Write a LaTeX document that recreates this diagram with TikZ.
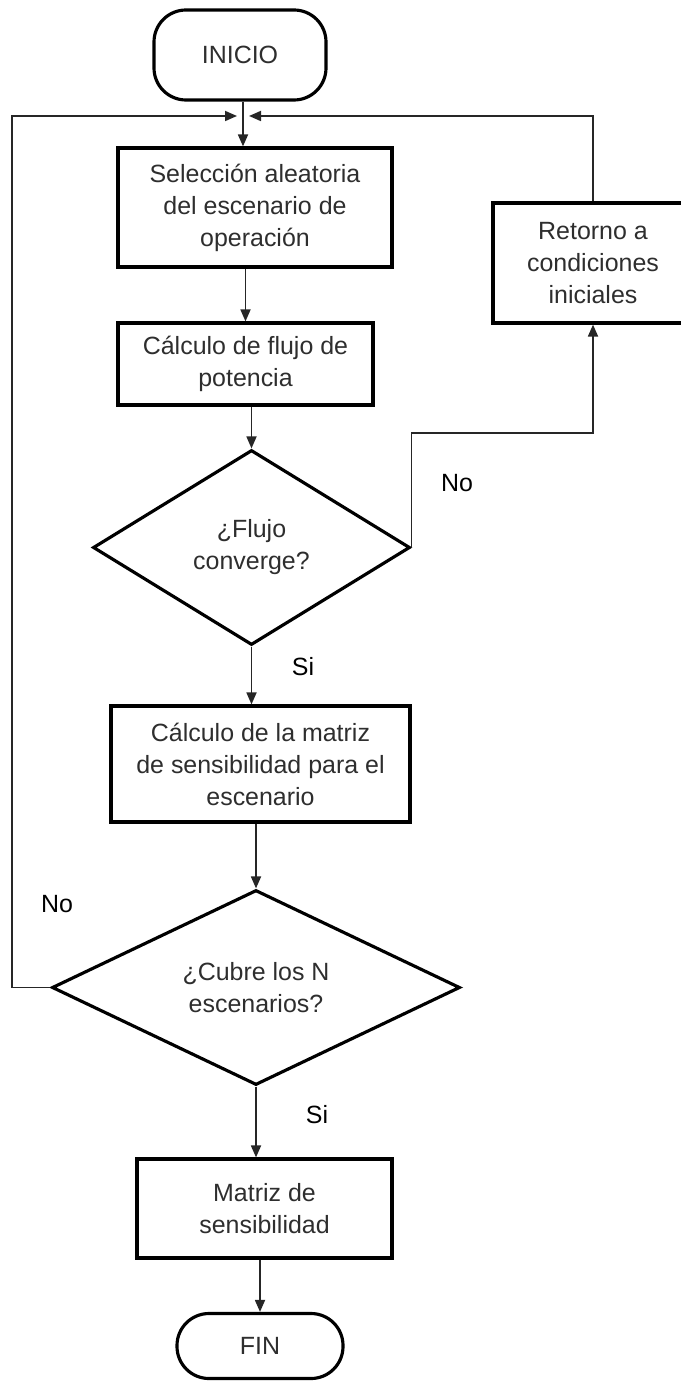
\documentclass[tikz,border=0pt]{standalone}
\usepackage{fontspec}
\setmainfont{Liberation Sans}
\usepackage{tikz}
\usetikzlibrary{shapes.geometric,arrows.meta,calc}

\begin{document}
\begin{tikzpicture}[x=0.2mm,y=-0.2mm,
        every node/.style={font=\fontsize{14.2pt}{18.2pt}\selectfont},
        proc/.style={draw=black,line width=1.8pt,rectangle,align=center,text=black!82,inner sep=0pt},
        term/.style={draw=black,line width=1.8pt,rectangle,rounded corners=0.64cm,text=black!82,inner sep=0pt},
        decis/.style={draw=black,line width=1.8pt,diamond,align=center,text=black!82,inner sep=0pt},
        flow/.style={draw=black!85,line width=1pt,-{Triangle[length=0.24cm,width=0.2cm]}},
        lbl/.style={text=black}]
                \clip (0,0) rectangle (681,1382);
                \node[term,minimum width=3.44cm,minimum height=1.8cm] (inicio) at (240,55) {INICIO};
                \node[proc,minimum width=5.48cm,minimum height=2.38cm] (sel) at (255,207.5) {Selección aleatoria\\del escenario de\\operación};
                \node[proc,minimum width=5.1cm,minimum height=1.64cm] (flujo) at (245.5,364) {Cálculo de flujo de\\potencia};
                \node[decis,aspect=1.63,minimum width=6.34cm,minimum height=3.9cm] (conv) at (251.5,547.5) {¿Flujo\\converge?};
                \node[proc,minimum width=4cm,minimum height=2.4cm] (ret) at (593,263) {Retorno a\\condiciones\\iniciales};
                \node[proc,minimum width=5.98cm,minimum height=2.32cm] (mat) at (260.5,764) {Cálculo de la matriz\\de sensibilidad para el\\escenario};
                \node[decis,aspect=2.1,minimum width=8.16cm,minimum height=3.9cm] (cubre) at (256,987.5) {¿Cubre los N\\escenarios?};
                \node[proc,minimum width=5.1cm,minimum height=1.98cm] (res) at (264.5,1208.5) {Matriz de\\sensibilidad};
                \node[term,minimum width=3.32cm,minimum height=1.3cm] (fin) at (260,1346) {FIN};
                \coordinate (jl) at (237,116);
                \coordinate (jr) at (249,116);
                \coordinate (lft) at (12,116);
                \coordinate (up1) at (410,433);
                \node[lbl] (no1) at (457,483) {No};
                \node[lbl] (si1) at (303,667) {Si};
                \node[lbl] (no2) at (57,904) {No};
                \node[lbl] (si2) at (317,1115) {Si};
                \draw[flow] (inicio.south -| 243,0) -- (sel.north -| 243,0);
                \draw[flow] (flujo.north |- sel.south) -- (flujo.north);
                \draw[flow] (conv.north |- flujo.south) -- (conv.north);
                \draw[flow] (conv.south) -- (conv.south |- mat.north);
                \draw[flow] (cubre.north |- mat.south) -- (cubre.north);
                \draw[flow] (cubre.south) -- (cubre.south |- res.north);
                \draw[flow] (res.south -| fin.north) -- (fin.north);
                \draw[flow] (conv.east) |- (ret.south |- up1) -- (ret.south);
                \draw[flow] (ret.north) |- (jr);
                \draw[flow] (cubre.west) -| (lft) -- (jl);
            \end{tikzpicture}
\end{document}
